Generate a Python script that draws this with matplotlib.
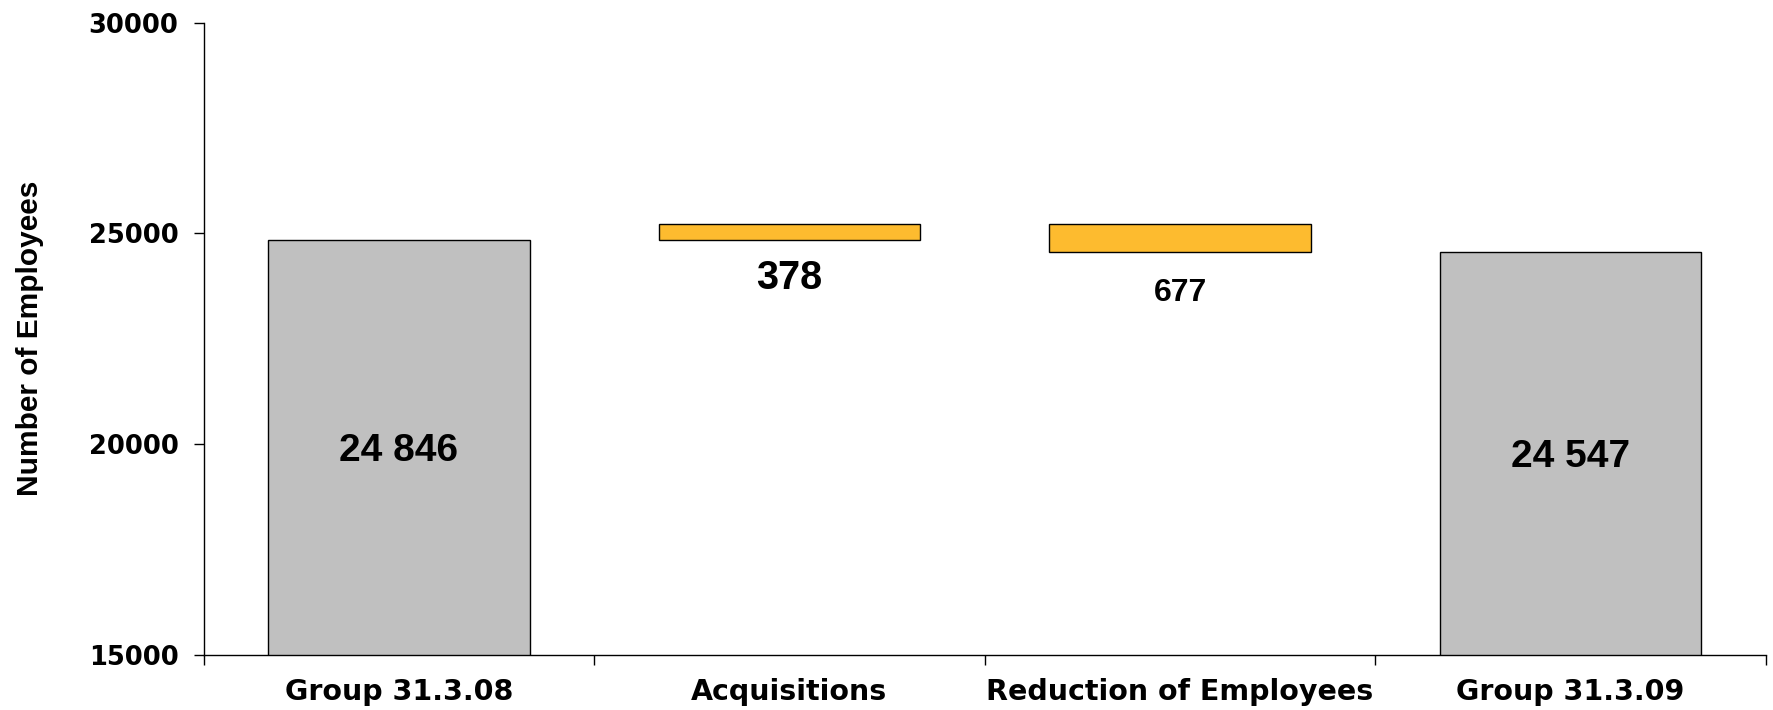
import numpy as np
import matplotlib.pyplot as plt

categories = ['Group 31.3.08', 'Acquisitions', 'Reduction of Employees', 'Group 31.3.09']
start_total = 24846
changes = [378, -677]
end_total = 24547
y_ticks = [15000, 20000, 25000, 30000]

grey = '#C0C0C0'
orange = '#FDBB2F'

# waterfall: totals stand on zero, changes float from the running total
running = start_total
bottoms = [0]
heights = [start_total]
for c in changes:
    bottoms.append(running if c > 0 else running + c)
    heights.append(abs(c))
    running = running + c
bottoms.append(0)
heights.append(end_total)
colors = [grey, orange, orange, grey]

fig = plt.figure(figsize=(17.73, 7.10), dpi=100)
ax = fig.add_axes([0.1148, 0.078, 0.8812, 0.890])

x = np.arange(len(categories))
ax.bar(x, heights, bottom=bottoms, width=0.67, color=colors,
       edgecolor='black', linewidth=1.0)

# value labels: totals in the middle of the visible bar, changes under the bar
ax.annotate('24 846', (0, (15000 + start_total) / 2), xytext=(0, -2.5),
            textcoords='offset points', ha='center', va='center',
            fontsize=28, fontweight='bold', family='Liberation Sans')
ax.annotate('24 547', (3, (15000 + end_total) / 2), xytext=(0, -2.5),
            textcoords='offset points', ha='center', va='center',
            fontsize=28, fontweight='bold', family='Liberation Sans')
ax.annotate(str(abs(changes[0])), (1, bottoms[1]), xytext=(0, -27.5),
            textcoords='offset points', ha='center', va='center',
            fontsize=28.5, fontweight='bold', family='Liberation Sans')
ax.annotate(str(abs(changes[1])), (2, bottoms[2]), xytext=(0, -29),
            textcoords='offset points', ha='center', va='center',
            fontsize=23, fontweight='bold', family='Liberation Sans')

ax.set_xlim(-0.5, 3.5)
ax.set_ylim(15000, 30000)
ax.set_yticks(y_ticks)
ax.set_yticklabels([str(t) for t in y_ticks], fontsize=18.5, fontweight='bold',
                   family='DejaVu Sans')
ax.set_xticks(x)
ax.set_xticklabels(categories, fontsize=20.5, fontweight='bold', family='DejaVu Sans')
ax.set_xticks(np.arange(-0.5, 4.0, 1.0), minor=True)
ax.tick_params(axis='x', which='major', length=0, pad=17)
ax.tick_params(axis='x', which='minor', length=7, width=1.0, direction='out')
ax.tick_params(axis='y', length=7, width=1.0, direction='out', pad=11)

ax.set_ylabel('Number of Employees', fontsize=21.5, fontweight='bold',
              family='Liberation Sans')
ax.yaxis.set_label_coords(-0.102, 0.5)

for side in ['top', 'right']:
    ax.spines[side].set_visible(False)
for side in ['left', 'bottom']:
    ax.spines[side].set_linewidth(1.0)

fig.savefig('out.png', dpi=100)
